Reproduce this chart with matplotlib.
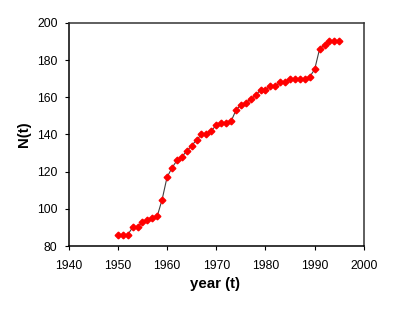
import matplotlib
matplotlib.use("Agg")
import matplotlib.pyplot as plt

years = list(range(1950, 1996))
values = [86, 86, 86, 90, 90, 93, 94, 95, 96, 105,
          117, 122, 126, 128, 131, 134, 137, 140, 140, 142,
          145, 146, 146, 147, 153, 156, 157, 159, 161, 164,
          164, 166, 166, 168, 168, 170, 170, 170, 170, 171,
          175, 186, 188, 190, 190, 190]
xticks = [1940, 1950, 1960, 1970, 1980, 1990, 2000]
yticks = [80, 100, 120, 140, 160, 180, 200]

plt.rcParams['font.family'] = ['Liberation Sans', 'DejaVu Sans']

fig = plt.figure(figsize=(3.99, 3.13), dpi=100)
ax = fig.add_axes([0.172, 0.214, 0.740, 0.713])
ax.plot(years, values, color='#404040', linewidth=0.8, zorder=2)
ax.plot(years, values, linestyle='none', marker='D', markersize=3.4,
        markerfacecolor='#ff0000', markeredgecolor='#ff0000', zorder=3)

ax.set_xlim(1940, 2000)
ax.set_ylim(80, 200)
ax.set_xticks(xticks)
ax.set_yticks(yticks)
ax.tick_params(direction='out', length=3, width=0.8, labelsize=8.7, colors='black')
ax.tick_params(axis='x', pad=7)
ax.tick_params(axis='y', pad=5)
for s in ax.spines.values():
    s.set_linewidth(1.1)
    s.set_color('black')
ax.spines['right'].set_color('#333333')
ax.spines['top'].set_color('#333333')

fig.text(215 / 399, 1 - 284 / 313, 'year (t)', ha='center', va='center',
         fontsize=10.8, fontweight='bold')
fig.text(24 / 399, 1 - 134 / 313, 'N(t)', ha='center', va='center',
         rotation=90, fontsize=10.8, fontweight='bold')

fig.savefig('out.png', dpi=100)
